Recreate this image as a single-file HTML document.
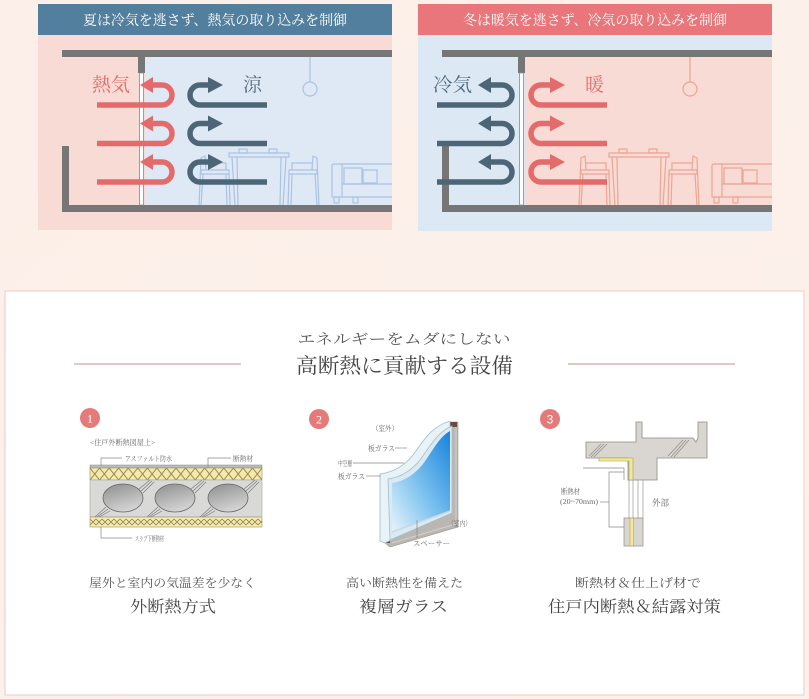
<!DOCTYPE html>
<html>
<head>
<meta charset="utf-8">
<style>
html,body{margin:0;padding:0;background:#fcefe8;}
svg{display:block;}
text{font-family:"Liberation Serif","Noto Serif CJK SC",serif;}
</style>
</head>
<body>
<svg width="809" height="699" viewBox="0 0 809 699" xmlns="http://www.w3.org/2000/svg">
<defs>
  <linearGradient id="bg" x1="0" y1="0" x2="1" y2="1">
    <stop offset="0" stop-color="#fcefe9"/>
    <stop offset="1" stop-color="#fdf1ea"/>
  </linearGradient>
  <linearGradient id="glass" x1="0" y1="1" x2="1" y2="0">
    <stop offset="0" stop-color="#e6f4fb"/>
    <stop offset="0.45" stop-color="#7fc3ef"/>
    <stop offset="1" stop-color="#1783dc"/>
  </linearGradient>
  <linearGradient id="ell" x1="0" y1="0" x2="0.4" y2="1">
    <stop offset="0" stop-color="#8e8e8e"/>
    <stop offset="1" stop-color="#d2d2d2"/>
  </linearGradient>
  <pattern id="zig1" x="90" y="468" width="9.56" height="12" patternUnits="userSpaceOnUse">
    <rect width="9.56" height="12" fill="#f6eaa8"/>
    <path d="M0,0 L9.56,12 M0,12 L9.56,0" stroke="#8d8258" stroke-width="0.9" fill="none"/>
  </pattern>
  <pattern id="zig2" x="90" y="517" width="6" height="10" patternUnits="userSpaceOnUse">
    <rect width="6" height="10" fill="#f6eaa8"/>
    <path d="M0,2 L6,8 M0,8 L6,2" stroke="#8d8258" stroke-width="0.8" fill="none"/>
  </pattern>
  <g id="furn" fill="none" stroke="currentColor" stroke-width="1.2" stroke-linejoin="round">
    <rect x="229" y="153" width="60" height="4"/>
    <rect x="239" y="149" width="8" height="4"/>
    <rect x="269" y="149" width="8" height="4"/>
    <path d="M232,157 L235,206 L238,206 L237,157"/>
    <path d="M286,157 L283,206 L280,206 L281,157"/>
    <path d="M199,206 L201,158 L205,156 L206,170"/>
    <rect x="201" y="170" width="28" height="4"/>
    <path d="M206,163 L226,163 L226,170"/>
    <path d="M226,174 L227,206 M229,174 L230,206 M203,174 L201,206"/>
    <path d="M319,206 L317,158 L313,156 L312,170"/>
    <rect x="289" y="170" width="28" height="4"/>
    <path d="M312,163 L292,163 L292,170"/>
    <path d="M292,174 L291,206 M289,174 L288,206 M315,174 L317,206"/>
    <path d="M392,164 L334,164 Q332,164 332,166 L332,197 L392,197"/>
    <path d="M342,164 L342,197"/>
    <rect x="344" y="168" width="18" height="16"/>
    <rect x="363" y="170" width="14" height="13"/>
    <path d="M342,184 L392,184"/>
    <rect x="334" y="197" width="5" height="6"/>
    <rect x="353" y="197" width="5" height="6"/>
    <path d="M310,57 L310,82"/>
    <circle cx="310" cy="89" r="7"/>
  </g>
</defs>

<rect x="0" y="0" width="809" height="699" fill="url(#bg)"/>

<!-- LEFT PANEL -->
<rect x="38" y="4" width="354" height="31" fill="#537f9e"/>
<text x="215" y="25" text-anchor="middle" font-size="14" fill="#ffffff" textLength="264" lengthAdjust="spacingAndGlyphs">夏は冷気を逃さず、熱気の取り込みを制御</text>
<rect x="38" y="35" width="354" height="195" fill="#f7dbd4"/>
<rect x="145" y="57" width="247" height="148" fill="#dfe8f5"/>
<use href="#furn" style="color:#a9c3e4"/>
<g fill="#767676">
  <rect x="62" y="50" width="330" height="7"/>
  <rect x="138" y="57" width="7" height="16"/>
  <rect x="62" y="146" width="7" height="66"/>
  <rect x="62" y="205" width="330" height="7"/>
</g>
<rect x="139.5" y="73" width="4" height="132" fill="#ffffff" stroke="#8a8a8a" stroke-width="0.8"/>

<text x="92" y="91" font-size="19" fill="#e06c6c" textLength="38" lengthAdjust="spacingAndGlyphs">熱気</text>
<text x="243" y="91" font-size="19" fill="#566b7c">涼</text>

<g fill="none" stroke-width="5.5">
  <g stroke="#e36b6b">
    <path d="M97,105 L162,105 A10,10 0 0 0 162,85 L151,85"/>
    <path d="M97,143.5 L162,143.5 A10,10 0 0 0 162,123.5 L151,123.5"/>
    <path d="M97,182 L162,182 A10,10 0 0 0 162,162 L151,162"/>
  </g>
  <g stroke="#4d6677">
    <path d="M267,105 L200,105 A10,10 0 0 1 200,85 L210,85"/>
    <path d="M267,143.5 L200,143.5 A10,10 0 0 1 200,123.5 L210,123.5"/>
    <path d="M267,182 L200,182 A10,10 0 0 1 200,162 L210,162"/>
  </g>
</g>
<g fill="#e36b6b">
  <path d="M140,85 L153,77 L153,93 Z"/>
  <path d="M140,123.5 L153,115.5 L153,131.5 Z"/>
  <path d="M140,162 L153,154 L153,170 Z"/>
</g>
<g fill="#4d6677">
  <path d="M223,85 L208,77 L208,93 Z"/>
  <path d="M223,123.5 L208,115.5 L208,131.5 Z"/>
  <path d="M223,162 L208,154 L208,170 Z"/>
</g>

<!-- RIGHT PANEL -->
<rect x="418" y="4" width="354" height="31" fill="#e8767a"/>
<text x="595" y="25" text-anchor="middle" font-size="14" fill="#ffffff" textLength="264" lengthAdjust="spacingAndGlyphs">冬は暖気を逃さず、冷気の取り込みを制御</text>
<rect x="418" y="35" width="354" height="196" fill="#dde8f5"/>
<rect x="525" y="57" width="247" height="148" fill="#f8dbd4"/>
<use href="#furn" transform="translate(380,0)" style="color:#eba593"/>
<g fill="#767676">
  <rect x="442" y="50" width="330" height="7"/>
  <rect x="518" y="57" width="7" height="16"/>
  <rect x="442" y="143" width="7" height="69"/>
  <rect x="442" y="205" width="330" height="7"/>
</g>
<rect x="519.5" y="73" width="4" height="132" fill="#ffffff" stroke="#8a8a8a" stroke-width="0.8"/>

<text x="433" y="91" font-size="19" fill="#4f6b80" textLength="39" lengthAdjust="spacingAndGlyphs">冷気</text>
<text x="585" y="91" font-size="19" fill="#e26d6d">暖</text>

<g fill="none" stroke-width="5.5">
  <g stroke="#4d6677">
    <path d="M437,105 L502,105 A10,10 0 0 0 502,85 L489,85"/>
    <path d="M437,143.5 L502,143.5 A10,10 0 0 0 502,123.5 L489,123.5"/>
    <path d="M437,182 L502,182 A10,10 0 0 0 502,162 L489,162"/>
  </g>
  <g stroke="#e36b6b">
    <path d="M607,105 L541,105 A10,10 0 0 1 541,85 L551,85"/>
    <path d="M607,143.5 L541,143.5 A10,10 0 0 1 541,123.5 L551,123.5"/>
    <path d="M607,182 L541,182 A10,10 0 0 1 541,162 L551,162"/>
  </g>
</g>
<g fill="#4d6677">
  <path d="M478,85 L491,77 L491,93 Z"/>
  <path d="M478,123.5 L491,115.5 L491,131.5 Z"/>
  <path d="M478,162 L491,154 L491,170 Z"/>
</g>
<g fill="#e36b6b">
  <path d="M565,85 L550,77 L550,93 Z"/>
  <path d="M565,123.5 L550,115.5 L550,131.5 Z"/>
  <path d="M565,162 L550,154 L550,170 Z"/>
</g>

<!-- LOWER WHITE BOX -->
<rect x="5" y="291" width="799" height="404" fill="#ffffff" stroke="#f0d3cb" stroke-width="1.2"/>

<text x="404" y="344" text-anchor="middle" font-size="14" fill="#555" textLength="213" lengthAdjust="spacingAndGlyphs">エネルギーをムダにしない</text>
<text x="404.5" y="373" text-anchor="middle" font-size="21" fill="#444" textLength="217" lengthAdjust="spacingAndGlyphs">高断熱に貢献する設備</text>
<line x1="74" y1="364" x2="241" y2="364" stroke="#e3c8c3" stroke-width="2"/>
<line x1="568" y1="364" x2="735" y2="364" stroke="#e3c8c3" stroke-width="2"/>

<g fill="#e57a7a">
  <circle cx="90" cy="418" r="10"/>
  <circle cx="319" cy="419" r="10"/>
  <circle cx="550" cy="419" r="10"/>
</g>
<g fill="#fff" font-size="12" text-anchor="middle">
  <text x="90" y="422.5">1</text>
  <text x="319" y="423.5">2</text>
  <text x="550" y="423.5" style="font-family:'Liberation Sans',sans-serif">3</text>
</g>

<!-- Item 1 -->
<text x="90" y="445" font-size="7.5" fill="#666" textLength="65" lengthAdjust="spacingAndGlyphs">&lt;住戸外断熱図屋上&gt;</text>
<rect x="90" y="465" width="172" height="3" fill="#b9bdbd" stroke="#888" stroke-width="0.5"/>
<rect x="90" y="468" width="172" height="12" fill="url(#zig1)" stroke="#9a9070" stroke-width="0.6"/>
<rect x="90" y="480" width="172" height="37" fill="#d9d9d7" stroke="#a8a8a8" stroke-width="0.6"/>
<rect x="90" y="517" width="172" height="10" fill="url(#zig2)" stroke="#9a9070" stroke-width="0.6"/>
<g stroke="#7b7b7b" stroke-width="0.7" fill="none">
  <path d="M139,489 L150,480 M141,491 L152,481 M143,493 L154,482"/>
  <path d="M106,507 L95,517 M108,509 L97,517 M110,511 L99,517"/>
  <path d="M191,489 L202,480 M193,491 L204,481 M195,493 L206,482"/>
  <path d="M158,507 L147,517 M160,509 L149,517 M162,511 L151,517"/>
  <path d="M244,489 L255,480 M246,491 L257,481 M248,493 L259,482"/>
  <path d="M211,507 L200,517 M213,509 L202,517 M215,511 L204,517"/>
</g>
<g fill="url(#ell)" stroke="#666" stroke-width="0.8">
  <ellipse cx="123" cy="498" rx="20" ry="14"/>
  <ellipse cx="175" cy="498" rx="20" ry="14"/>
  <ellipse cx="228" cy="498" rx="20" ry="14"/>
</g>
<g stroke="#888" stroke-width="0.7" fill="none">
  <path d="M101,466 L101,458 L122,458"/>
  <path d="M208,468 L208,458 L231,458"/>
  <path d="M101,527 L101,538 L132,538"/>
</g>
<g font-size="7" fill="#666">
  <text x="125" y="461" textLength="47" lengthAdjust="spacingAndGlyphs">アスファルト防水</text>
  <text x="233" y="461" textLength="20" lengthAdjust="spacingAndGlyphs">断熱材</text>
  <text x="135" y="541" textLength="29" lengthAdjust="spacingAndGlyphs">スラブ下断熱材</text>
</g>

<!-- Item 2 -->
<path d="M450,422 L458,422 L458,527 L390,547 L385,543 L385,532 L450,512 Z" fill="#bab6b2" stroke="#9a9690" stroke-width="0.6"/>
<path d="M452,424 L456,424 L456,524 L392,543" fill="none" stroke="#d3d0cc" stroke-width="1"/>
<rect x="450" y="422" width="7" height="5" fill="#6b4a3a"/>
<rect x="385" y="532" width="5" height="11" fill="#6b4a3a"/>
<path d="M380,474 C395,472 405,465 413,455 C422,443 430,427 450,421 L450,512 L385,543 L380,541 Z" fill="#e8f2f7" stroke="#9fbfcf" stroke-width="0.8"/>
<path d="M388,479 C402,477 412,470 420,460 C429,448 437,432 452,426 L452,513 L390,540 Z" fill="#dbeaf2" stroke="#9fbfcf" stroke-width="0.8"/>
<path d="M392,483 C405,481 415,474 423,464 C432,452 439,437 450,431 L450,511 L392,532 Z" fill="url(#glass)"/>
<path d="M392,532 L450,511" stroke="#c9d8e0" stroke-width="1.5"/>
<g stroke="#888" stroke-width="0.7" fill="none">
  <path d="M395,448 L407,448"/>
  <path d="M353,463 L404,463"/>
  <path d="M366,476 L381,476"/>
  <path d="M417,520 L417,538"/>
</g>
<g font-size="7.5" fill="#666">
  <text x="372" y="431" textLength="26" lengthAdjust="spacingAndGlyphs">（室外）</text>
  <text x="368" y="451" textLength="27" lengthAdjust="spacingAndGlyphs">板ガラス</text>
  <text x="338" y="466" textLength="14" lengthAdjust="spacingAndGlyphs">中空層</text>
  <text x="338" y="479" textLength="27" lengthAdjust="spacingAndGlyphs">板ガラス</text>
  <text x="448" y="526" textLength="23" lengthAdjust="spacingAndGlyphs">（室内）</text>
  <text x="413" y="546" textLength="37" lengthAdjust="spacingAndGlyphs">スペーサー</text>
</g>

<!-- Item 3 -->
<path d="M586,442 L636,442 L636,422 L642,422 L642,438 L693,438 L696,442 L698,438 L698,422 L707,422 L707,458 L657,458 L657,480 L628,480 L628,458 L586,458 Z" fill="#d9d6d2" stroke="#8f8a85" stroke-width="0.8"/>
<g stroke="#8f8a85" stroke-width="0.7" fill="none">
  <path d="M589,456 L601,444 M591,457 L604,444 M594,457 L607,444"/>
  <path d="M668,456 L683,440 M671,457 L686,440 M674,457 L689,440"/>
</g>
<path d="M599,458 L633,458 L633,480 L629,480 L629,461 L599,461 Z" fill="#f5e79a" stroke="#a69a5a" stroke-width="0.6"/>
<g stroke="#999" stroke-width="0.7" fill="none">
  <path d="M629,480 L629,518 M633,480 L633,518 M638,480 L638,518 M643,480 L643,518"/>
</g>
<rect x="624" y="518" width="19" height="28" fill="#d9d6d2" stroke="#8f8a85" stroke-width="0.7"/>
<rect x="630" y="518" width="3.5" height="28" fill="#f5e79a" stroke="#a69a5a" stroke-width="0.5"/>
<g stroke="#888" stroke-width="0.7" fill="none">
  <path d="M583,468 L624,468 L624,480"/>
  <path d="M624,472 L609,472 L609,527 L624,527"/>
  <path d="M600,502 L609,502"/>
</g>
<g font-size="7.5" fill="#666">
  <text x="561" y="494" textLength="19" lengthAdjust="spacingAndGlyphs">断熱材</text>
  <text x="560" y="504" textLength="38" lengthAdjust="spacingAndGlyphs">(20~70mm)</text>
  <text x="652" y="506" font-size="9" textLength="17" lengthAdjust="spacingAndGlyphs">外部</text>
</g>

<!-- captions -->
<g text-anchor="middle" fill="#555">
  <text x="172.5" y="587" font-size="12" textLength="167" lengthAdjust="spacingAndGlyphs">屋外と室内の気温差を少なく</text>
  <text x="404.5" y="587" font-size="12" textLength="117" lengthAdjust="spacingAndGlyphs">高い断熱性を備えた</text>
  <text x="638" y="587" font-size="12" textLength="126" lengthAdjust="spacingAndGlyphs">断熱材＆仕上げ材で</text>
</g>
<g text-anchor="middle" fill="#444">
  <text x="173" y="612" font-size="16" textLength="86" lengthAdjust="spacingAndGlyphs">外断熱方式</text>
  <text x="403.5" y="612" font-size="16" textLength="89" lengthAdjust="spacingAndGlyphs">複層ガラス</text>
  <text x="634.5" y="612" font-size="16" textLength="173" lengthAdjust="spacingAndGlyphs">住戸内断熱＆結露対策</text>
</g>
</svg>
</body>
</html>
